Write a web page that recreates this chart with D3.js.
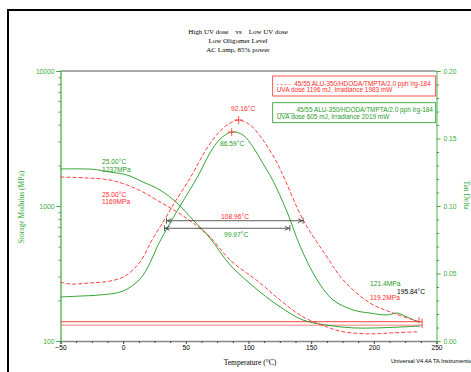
<!DOCTYPE html>
<html><head><meta charset="utf-8">
<script src="https://cdn.jsdelivr.net/npm/d3@7"></script>
<style>body{margin:0;background:#fff}svg{display:block}</style>
</head><body><svg id="c" width="471" height="372"></svg>
<script>
// ---------- data ----------
const titleLines = ["High UV dose    vs    Low UV dose", "Low Oligomer Level", "AC Lamp, 85% power"];
const xTicks = [-50, 0, 50, 100, 150, 200, 250];
const leftTicks = [100, 1000, 10000];
const rightTicks = [0, 0.05, 0.10, 0.15, 0.20];

// Storage modulus (MPa) — high UV dose (red dashed)
const redModT = [-50, -29, -10.5, 3, 15.8, 29.4, 43, 55.8, 69.3, 85.3, 109.2, 125.2, 143.5, 162.7, 175.5, 197, 215.4, 234.5];
const redModV = [1640, 1613, 1558, 1430, 1270, 1071, 903, 748, 589, 398, 269, 201, 151, 127, 117, 113, 115, 117];
// Storage modulus (MPa) — low UV dose (green solid)
const grnModT = [-50, -24, -10.5, 3, 15.8, 29.4, 43, 55.8, 69.3, 85.3, 109.2, 125.2, 143.5, 162.7, 183.4, 202.6, 221, 237];
const grnModV = [1880, 1870, 1786, 1697, 1506, 1313, 1052, 787, 579, 366, 231, 179, 143, 131, 125, 125, 127, 129];
// Tan delta — high UV dose (red dashed)
const redTanT = [-50, -42.4, -26.5, -10.5, 1.5, 13.4, 23, 31.8, 39.8, 53.4, 67, 77.4, 85.4, 92.16, 101.3, 109.3, 114.8, 122.8, 129.2, 143.6, 162.7, 175.5, 197, 215.4, 236.9];
const redTanV = [0.0437, 0.0422, 0.043, 0.0444, 0.0481, 0.0585, 0.0748, 0.0881, 0.1007, 0.1207, 0.143, 0.1556, 0.1615, 0.1637, 0.16, 0.1519, 0.1444, 0.1319, 0.1193, 0.0896, 0.0622, 0.0452, 0.0281, 0.0207, 0.0141];
// Tan delta — low UV dose (green solid)
const grnTanT = [-50, -34.4, -18.5, -0.1, 13.4, 21.4, 27, 33.4, 45.4, 59.7, 69.3, 77.3, 86.59, 95.65, 103.6, 110.8, 118.8, 130.8, 141.1, 154.8, 167.5, 183.4, 197, 210.6, 218.6, 226.5, 236.9];
const grnTanV = [0.0326, 0.0333, 0.0341, 0.037, 0.0459, 0.0578, 0.0696, 0.0807, 0.1, 0.1222, 0.1393, 0.1496, 0.1548, 0.1526, 0.1437, 0.1326, 0.12, 0.0956, 0.0704, 0.0452, 0.0304, 0.023, 0.0207, 0.0193, 0.0207, 0.0178, 0.0133];
// Baseline traces (MPa)
const baseT = [-50, 238.5];
const baseUpperV = [139, 139];
const baseLowerV = [131, 131];
// Transition width arrows: start, end (°C), level (MPa), label
const arrowStart = [34.6, 33.0];
const arrowEnd = [143.56, 132.97];
const arrowLevel = [778, 684];
const arrowLabels = ["108.96°C", "99.97°C"];

// ---------- drawing ----------
const RED = "#ff2a2a", GRN = "#1f9a1f", GTXT = "#3aaa3a";
const svg = d3.select("#c");
svg.append("rect").attr("width", 471).attr("height", 372).attr("fill", "#fff");

const x = d3.scaleLinear().domain([-50, 250]).range([60.5, 436.5]);
const yE = d3.scaleLog().domain([100, 10000]).range([341, 71]);
const yT = d3.scaleLinear().domain([0, 0.2]).range([341, 71]);

// outer frame lines
svg.append("path").attr("d", "M8,372V10H471").attr("fill", "none").attr("stroke", "#000").attr("stroke-width", 2);

// titles
svg.append("g").selectAll("text").data(titleLines).join("text")
  .attr("x", 238).attr("y", (d, i) => 34 + i * 9)
  .attr("text-anchor", "middle").attr("font-family", "Liberation Serif").attr("font-size", 7).attr("fill", "#000")
  .style("white-space", "pre").text(d => d);

// top frame line
svg.append("line").attr("x1", 60.5).attr("x2", 436.5).attr("y1", 71).attr("y2", 71).attr("stroke", "#555").attr("stroke-width", 1);

// bottom axis
const gx = svg.append("g").attr("transform", "translate(0,341)");
gx.call(d3.axisBottom(x).tickValues(xTicks).tickSize(3).tickPadding(1).tickFormat(d3.format("d")));
gx.select(".domain").attr("stroke", "#888").attr("stroke-width", 1.5);
gx.selectAll(".tick line").attr("stroke", "#444");
gx.selectAll("text").attr("font-family", "Liberation Sans").attr("font-size", 6.7).attr("fill", "#000");
const xMinor = d3.range(-50, 250.1, 12.5).filter(v => !xTicks.includes(v));
svg.append("g").attr("transform", "translate(0,341)")
  .call(d3.axisBottom(x).tickValues(xMinor).tickSize(2).tickFormat(""))
  .call(g => g.select(".domain").remove()).selectAll("line").attr("stroke", "#444");

// left axis
const gl = svg.append("g").attr("transform", "translate(60.5,0)");
gl.call(d3.axisLeft(yE).tickValues(leftTicks).tickSize(4).tickPadding(2).tickFormat(d3.format("d")));
gl.select(".domain").attr("stroke", "#3aaa3a").attr("stroke-width", 1.2);
gl.selectAll(".tick line").attr("stroke", "#3aaa3a");
gl.selectAll("text").attr("font-family", "Liberation Sans").attr("font-size", 6.7).attr("fill", GTXT);
const leftMinor = [];
[100, 1000].forEach(b => { for (let k = 2; k <= 9; k++) leftMinor.push(b * k); });
svg.append("g").attr("transform", "translate(60.5,0)")
  .call(d3.axisLeft(yE).tickValues(leftMinor).tickSize(2).tickFormat(""))
  .call(g => g.select(".domain").remove()).selectAll("line").attr("stroke", "#3aaa3a");

// right axis
const gr = svg.append("g").attr("transform", "translate(436.5,0)");
gr.call(d3.axisRight(yT).tickValues(rightTicks).tickSize(4).tickPadding(3).tickFormat(d3.format(".2f")));
gr.select(".domain").attr("stroke", "#6cbf6c").attr("stroke-width", 1.2);
gr.selectAll(".tick line").attr("stroke", "#3aaa3a");
gr.selectAll("text").attr("font-family", "Liberation Sans").attr("font-size", 6.7).attr("fill", GTXT);
const rightMinor = d3.range(1, 20).filter(k => k % 5 !== 0).map(k => k / 100);
svg.append("g").attr("transform", "translate(436.5,0)")
  .call(d3.axisRight(yT).tickValues(rightMinor).tickSize(2.5).tickFormat(""))
  .call(g => g.select(".domain").remove()).selectAll("line").attr("stroke", "#3aaa3a");

// axis titles
svg.append("text").attr("transform", "translate(24,207) rotate(-90)").attr("text-anchor", "middle")
  .attr("font-family", "Liberation Serif").attr("font-size", 7.5).attr("fill", GTXT).text("Storage Modulus (MPa)");
svg.append("text").attr("transform", "translate(464,195) rotate(90)").attr("text-anchor", "middle")
  .attr("font-family", "Liberation Serif").attr("font-size", 7.5).attr("fill", GTXT).text("Tan Delta");
svg.append("text").attr("x", 250).attr("y", 365).attr("text-anchor", "middle")
  .attr("font-family", "Liberation Serif").attr("font-size", 7.5).attr("fill", "#000").text("Temperature (°C)");
svg.append("text").attr("x", 391).attr("y", 363)
  .attr("font-family", "Liberation Sans").attr("font-size", 5.7).attr("fill", "#000").text("Universal V4.4A TA Instruments");

// curves
const mk = (T, V) => T.map((t, i) => ({ t, v: V[i] }));
const lineE = d3.line().x(d => x(d.t)).y(d => yE(d.v)).curve(d3.curveCatmullRom.alpha(0.5));
const lineT = d3.line().x(d => x(d.t)).y(d => yT(d.v)).curve(d3.curveCatmullRom.alpha(0.5));
const curves = svg.append("g").attr("fill", "none");

// baseline traces
curves.append("path").attr("d", lineE(mk(baseT, baseUpperV))).attr("stroke", RED).attr("stroke-width", 0.9);
curves.append("path").attr("d", lineE(mk(baseT, baseLowerV))).attr("stroke", "#ff7070").attr("stroke-width", 0.9);
curves.append("line").attr("x1", x(baseT[1])).attr("x2", x(baseT[1]))
  .attr("y1", yE(baseUpperV[0]) - 3).attr("y2", yE(baseLowerV[0]) + 3).attr("stroke", RED).attr("stroke-width", 0.9);

curves.append("path").attr("d", lineE(mk(grnModT, grnModV))).attr("stroke", GRN).attr("stroke-width", 0.9);
curves.append("path").attr("d", lineT(mk(grnTanT, grnTanV))).attr("stroke", GRN).attr("stroke-width", 0.9);
curves.append("path").attr("d", lineE(mk(redModT, redModV))).attr("stroke", RED).attr("stroke-width", 0.9).attr("stroke-dasharray", "4,2");
curves.append("path").attr("d", lineT(mk(redTanT, redTanV))).attr("stroke", RED).attr("stroke-width", 0.9).attr("stroke-dasharray", "4,2");
// end tick of red tan delta
const lt = redTanT[redTanT.length - 1], lv = redTanV[redTanV.length - 1];
curves.append("line").attr("x1", x(lt) - 1).attr("x2", x(lt) - 1)
  .attr("y1", yT(lv) - 5).attr("y2", yT(lv)).attr("stroke", RED).attr("stroke-width", 0.8);

// peak markers
const peaks = [{ t: 92.16, v: 0.1637 }, { t: 86.59, v: 0.1548 }];
peaks.forEach(p => {
  const px = x(p.t), py = yT(p.v);
  svg.append("path").attr("d", `M${px - 4},${py}H${px + 4}M${px},${py - 4}V${py + 4}`).attr("stroke", RED).attr("stroke-width", 0.8);
});

// transition width arrows
const ag = svg.append("g").attr("stroke", "#333").attr("stroke-width", 0.8).attr("fill", "none");
arrowStart.forEach((s, i) => {
  const x1 = x(s), x2 = x(arrowEnd[i]), yy = yE(arrowLevel[i]);
  ag.append("line").attr("x1", x1).attr("x2", x2).attr("y1", yy).attr("y2", yy);
  ag.append("path").attr("d", `M${x1},${yy - 3}V${yy + 3}M${x1 + 5},${yy - 2}L${x1 + 1},${yy}L${x1 + 5},${yy + 2}`);
  ag.append("path").attr("d", `M${x2},${yy - 3}V${yy + 3}M${x2 - 5},${yy - 2}L${x2 - 1},${yy}L${x2 - 5},${yy + 2}`);
});

// annotations
const ann = [
  { t: "25.00°C", x: 102, y: 164, c: GRN }, { t: "1237MPa", x: 102, y: 171.5, c: GRN },
  { t: "25.00°C", x: 102, y: 196.5, c: RED }, { t: "1169MPa", x: 102, y: 204, c: RED },
  { t: "92.16°C", x: 231, y: 111, c: RED }, { t: "86.59°C", x: 220, y: 146, c: GRN },
  { t: arrowLabels[0], x: 221, y: 218.5, c: RED }, { t: arrowLabels[1], x: 224, y: 236.5, c: GRN },
  { t: "121.4MPa", x: 370, y: 286, c: GRN }, { t: "195.84°C", x: 397, y: 293.5, c: "#000" },
  { t: "119.2MPa", x: 370, y: 300, c: RED }
];
svg.append("g").selectAll("text").data(ann).join("text")
  .attr("x", d => d.x).attr("y", d => d.y).attr("fill", d => d.c)
  .attr("font-family", "Liberation Sans").attr("font-size", 6.7).text(d => d.t);

// legend boxes
const legends = [
  { c: RED, y: 76, l1: "- - - -  45/55 ALU-350/HDODA/TMPTA/2.0 pph Irg-184", l2: "UVA dose 1196 mJ, Irradiance 1983 mW" },
  { c: GRN, y: 102.7, l1: "_____ 45/55 ALU-350/HDODA/TMPTA/2.0 pph Irg-184", l2: "UVA dose 605 mJ, Irradiance 2019 mW" }
];
legends.forEach(L => {
  svg.append("rect").attr("x", 272.7).attr("y", L.y).attr("width", 163).attr("height", 20)
    .attr("fill", "#fff").attr("stroke", L.c).attr("stroke-width", 0.8);
  svg.append("text").attr("x", 276.7).attr("y", L.y + 9.5).attr("fill", L.c).attr("font-family", "Liberation Sans")
    .attr("font-size", 6.45).style("white-space", "pre").text(L.l1);
  svg.append("text").attr("x", 276.7).attr("y", L.y + 16.3).attr("fill", L.c).attr("font-family", "Liberation Sans")
    .attr("font-size", 6.45).text(L.l2);
});
</script></body></html>
